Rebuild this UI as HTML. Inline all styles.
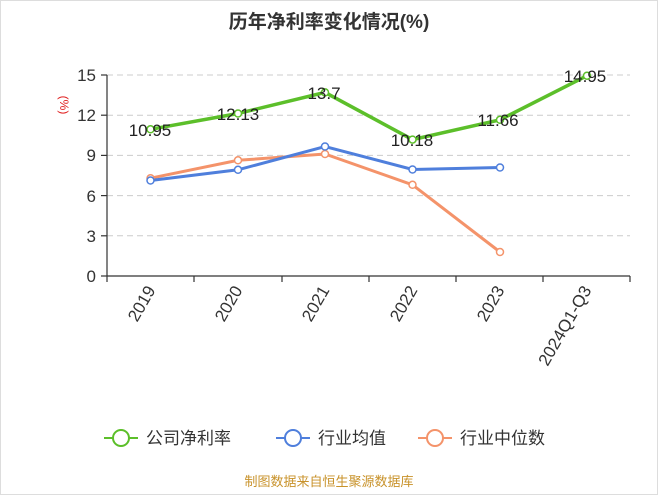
<!DOCTYPE html>
<html><head><meta charset="utf-8"><style>
body{margin:0;background:#fff;}
svg{display:block;font-family:"Liberation Sans","Noto Sans CJK SC",sans-serif;}
</style></head><body>
<svg width="658" height="495" viewBox="0 0 658 495">
<rect x="0.5" y="0.5" width="657" height="494" fill="#fff" stroke="#ddd"/>
<text x="329" y="28" text-anchor="middle" font-size="19" font-weight="bold" fill="#333">历年净利率变化情况(%)</text>
<g stroke="#ccc" stroke-dasharray="6,4">
<line x1="107" x2="630" y1="75" y2="75"/><line x1="107" x2="630" y1="115.2" y2="115.2"/>
<line x1="107" x2="630" y1="155.4" y2="155.4"/><line x1="107" x2="630" y1="195.6" y2="195.6"/>
<line x1="107" x2="630" y1="235.8" y2="235.8"/>
</g>
<g stroke="#333" stroke-width="1.2">
<line x1="107" x2="107" y1="75" y2="276"/><line x1="101" x2="107" y1="75" y2="75"/>
<line x1="101" x2="107" y1="115.2" y2="115.2"/><line x1="101" x2="107" y1="155.4" y2="155.4"/>
<line x1="101" x2="107" y1="195.6" y2="195.6"/><line x1="101" x2="107" y1="235.8" y2="235.8"/>
<line x1="101" x2="107" y1="276" y2="276"/>
<line x1="107" x2="630" y1="276" y2="276"/>
<line x1="107" x2="107" y1="276" y2="282"/><line x1="194" x2="194" y1="276" y2="282"/>
<line x1="282" x2="282" y1="276" y2="282"/><line x1="369" x2="369" y1="276" y2="282"/>
<line x1="456" x2="456" y1="276" y2="282"/><line x1="543" x2="543" y1="276" y2="282"/>
<line x1="630" x2="630" y1="276" y2="282"/>
</g>
<g font-size="17" fill="#333" text-anchor="end">
<text x="96" y="81">15</text><text x="96" y="121">12</text><text x="96" y="161">9</text>
<text x="96" y="202">6</text><text x="96" y="242">3</text><text x="96" y="282">0</text>
</g>
<text transform="translate(60,105) rotate(90)" text-anchor="middle" font-size="12" fill="#e02020">(%)</text>
<g font-size="17" fill="#333" text-anchor="end">
<text transform="translate(156,290) rotate(-60)">2019</text>
<text transform="translate(243,290) rotate(-60)">2020</text>
<text transform="translate(330,290) rotate(-60)">2021</text>
<text transform="translate(418,290) rotate(-60)">2022</text>
<text transform="translate(505,290) rotate(-60)">2023</text>
<text transform="translate(592,290) rotate(-60)">2024Q1-Q3</text>
</g>
<polyline fill="none" stroke="#f4936a" stroke-width="3" points="150.5,178.2 238,160.3 325,154 412.5,184.8 500,252"/>
<polyline fill="none" stroke="#4f7fdc" stroke-width="3" points="150.5,180.5 238,169.8 325,146.5 412.5,169.5 500,167.5"/>
<polyline fill="none" stroke="#5cbf2a" stroke-width="3.5" points="150.5,129.3 238,113.5 325,92.4 412.5,139.6 500,119.8 587,75.7"/>
<g fill="#fff" stroke-width="1.5">
<g stroke="#f4936a"><circle cx="150.5" cy="178.2" r="3.5"/><circle cx="238" cy="160.3" r="3.5"/><circle cx="325" cy="154" r="3.5"/><circle cx="412.5" cy="184.8" r="3.5"/><circle cx="500" cy="252" r="3.5"/></g>
<g stroke="#4f7fdc"><circle cx="150.5" cy="180.5" r="3.5"/><circle cx="238" cy="169.8" r="3.5"/><circle cx="325" cy="146.5" r="3.5"/><circle cx="412.5" cy="169.5" r="3.5"/><circle cx="500" cy="167.5" r="3.5"/></g>
<g stroke="#5cbf2a"><circle cx="150.5" cy="129.3" r="3.5"/><circle cx="238" cy="113.5" r="3.5"/><circle cx="325" cy="92.4" r="3.5"/><circle cx="412.5" cy="139.6" r="3.5"/><circle cx="500" cy="119.8" r="3.5"/><circle cx="587" cy="75.7" r="3.5"/></g>
</g>
<g font-size="17" fill="#222" text-anchor="middle">
<text x="150" y="136">10.95</text><text x="238" y="120">12.13</text><text x="324" y="99">13.7</text>
<text x="412" y="146">10.18</text><text x="498" y="126">11.66</text><text x="585" y="82">14.95</text>
</g>
<g stroke-width="2" fill="#fff">
<line x1="104" x2="138" y1="438" y2="438" stroke="#5cbf2a"/><circle cx="121" cy="438" r="8" stroke="#5cbf2a"/>
<line x1="276" x2="310" y1="438" y2="438" stroke="#4f7fdc"/><circle cx="293" cy="438" r="8" stroke="#4f7fdc"/>
<line x1="418" x2="452" y1="438" y2="438" stroke="#f4936a"/><circle cx="435" cy="438" r="8" stroke="#f4936a"/>
</g>
<g font-size="17" fill="#333">
<text x="146" y="444">公司净利率</text><text x="318" y="444">行业均值</text><text x="460" y="444">行业中位数</text>
</g>
<text x="329" y="486" text-anchor="middle" font-size="13" fill="#c8922a">制图数据来自恒生聚源数据库</text>
</svg>
</body></html>
